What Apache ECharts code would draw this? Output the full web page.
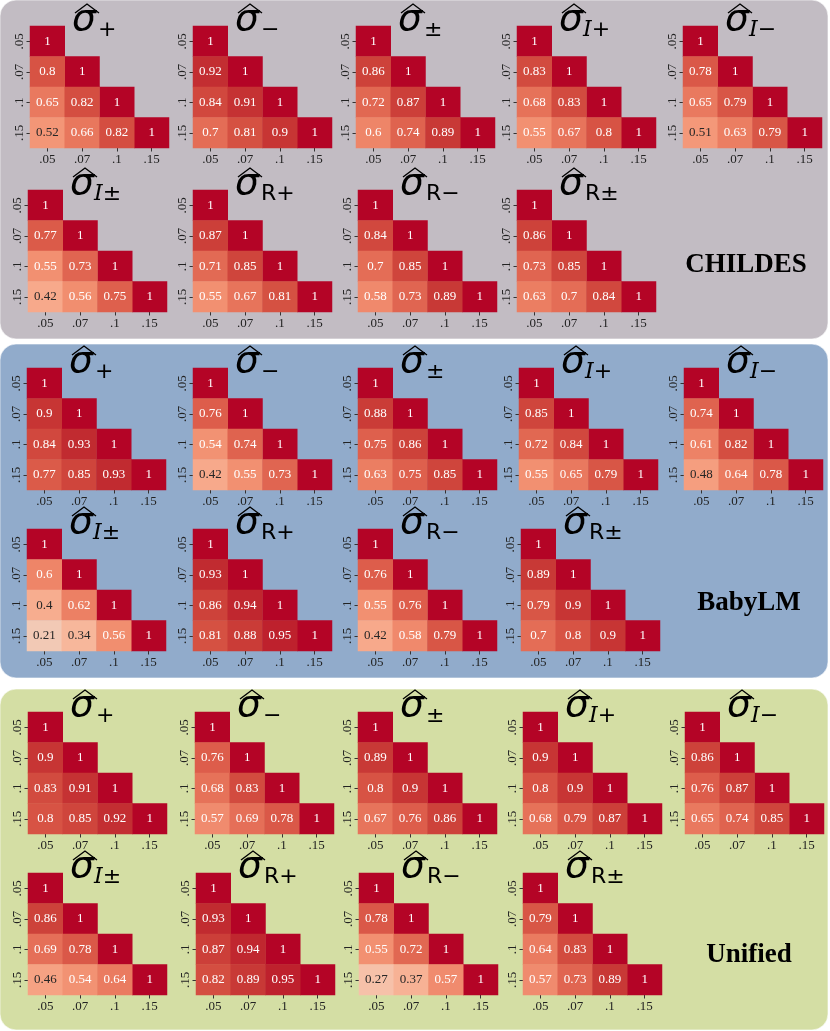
<!DOCTYPE html>
<html><head><meta charset="utf-8">
<script src="https://cdn.jsdelivr.net/npm/echarts@6/dist/echarts.min.js"></script>
<style>html,body{margin:0;padding:0;background:#fff}#c{width:830px;height:1031px}</style>
</head><body><div id="c"></div>
<script>
// ---- DATA ----
const thresholds = ['.05', '.07', '.1', '.15'];
const measureSubs = ['+', '\u2212', '\u00b1', 'I+', 'I\u2212', 'I\u00b1', 'R+', 'R\u2212', 'R\u00b1'];
const corpora = ['CHILDES', 'BabyLM', 'Unified'];
// lower-triangle order: (.07,.05) (.1,.05) (.1,.07) (.15,.05) (.15,.07) (.15,.1)
const childesValues = [
  [0.80, 0.65, 0.82, 0.52, 0.66, 0.82],
  [0.92, 0.84, 0.91, 0.70, 0.81, 0.90],
  [0.86, 0.72, 0.87, 0.60, 0.74, 0.89],
  [0.83, 0.68, 0.83, 0.55, 0.67, 0.80],
  [0.78, 0.65, 0.79, 0.51, 0.63, 0.79],
  [0.77, 0.55, 0.73, 0.42, 0.56, 0.75],
  [0.87, 0.71, 0.85, 0.55, 0.67, 0.81],
  [0.84, 0.70, 0.85, 0.58, 0.73, 0.89],
  [0.86, 0.73, 0.85, 0.63, 0.70, 0.84]
];
const babylmValues = [
  [0.90, 0.84, 0.93, 0.77, 0.85, 0.93],
  [0.76, 0.54, 0.74, 0.42, 0.55, 0.73],
  [0.88, 0.75, 0.86, 0.63, 0.75, 0.85],
  [0.85, 0.72, 0.84, 0.55, 0.65, 0.79],
  [0.74, 0.61, 0.82, 0.48, 0.64, 0.78],
  [0.60, 0.40, 0.62, 0.21, 0.34, 0.56],
  [0.93, 0.86, 0.94, 0.81, 0.88, 0.95],
  [0.76, 0.55, 0.76, 0.42, 0.58, 0.79],
  [0.89, 0.79, 0.90, 0.70, 0.80, 0.90]
];
const unifiedValues = [
  [0.90, 0.83, 0.91, 0.80, 0.85, 0.92],
  [0.76, 0.68, 0.83, 0.57, 0.69, 0.78],
  [0.89, 0.80, 0.90, 0.67, 0.76, 0.86],
  [0.90, 0.80, 0.90, 0.68, 0.79, 0.87],
  [0.86, 0.76, 0.87, 0.65, 0.74, 0.85],
  [0.86, 0.69, 0.78, 0.46, 0.54, 0.64],
  [0.93, 0.87, 0.94, 0.82, 0.89, 0.95],
  [0.78, 0.55, 0.72, 0.27, 0.37, 0.57],
  [0.79, 0.64, 0.83, 0.57, 0.73, 0.89]
];
const corpusValues = [childesValues, babylmValues, unifiedValues];

// ---- STYLE / LAYOUT ----
const coolwarm = [
 [59,76,192],[68,90,204],[77,104,215],[87,117,225],[98,130,234],[108,142,241],[119,154,247],[130,165,251],
 [141,176,254],[152,185,255],[163,194,255],[174,201,253],[184,208,249],[194,213,244],[204,217,238],[213,219,230],
 [221,221,221],[229,216,209],[236,211,197],[241,204,185],[245,196,173],[247,187,160],[247,177,148],[247,166,135],
 [244,154,123],[241,141,111],[236,127,99],[229,112,88],[222,96,77],[213,80,66],[203,62,56],[192,40,47],[180,4,38]
];
const panelColors = ['#c2bcc3', '#91abcb', '#d4dea4'];
const panelRects = [[0, 0, 828, 339], [0, 344, 828, 334], [0, 689, 828, 341]];
const gridLefts = [
  [[30, 193, 356, 517, 683], [28, 193, 358, 517]],
  [[27, 193, 358, 519, 684], [27, 193, 358, 521]],
  [[28, 195, 358, 523, 685], [28, 196, 359, 523]]
];
const gridTops = [[26, 190], [368, 529], [712, 873]];
const labelPos = [[746, 265], [749, 603], [749, 955]];
const GW = 139, GH = 122;

function cmap(v) {
  const t = (v + 1) / 2 * (coolwarm.length - 1);
  const i = Math.min(Math.floor(t), coolwarm.length - 2), f = t - i;
  return coolwarm[i].map((c, k) => c + (coolwarm[i + 1][k] - c) * f);
}
function textColor(v) {
  const lin = cmap(v).map(c => { c /= 255; return c <= 0.03928 ? c / 12.92 : Math.pow((c + 0.055) / 1.055, 2.4); });
  const L = 0.2126 * lin[0] + 0.7152 * lin[1] + 0.0722 * lin[2];
  return L > 0.408 ? '#262626' : '#ffffff';
}

const grids = [], xAxes = [], yAxes = [], series = [], graphics = [];
const pairs = [[0,1],[0,2],[1,2],[0,3],[1,3],[2,3]]; // [col,row]

panelRects.forEach((r, p) => {
  graphics.push({ type: 'rect', z: 0, shape: { x: r[0], y: r[1], width: r[2], height: r[3], r: 16 },
    style: { fill: panelColors[p], stroke: 'rgba(255,255,255,0.6)', lineWidth: 1 } });
  graphics.push({ type: 'text', z: 100, x: labelPos[p][0], y: labelPos[p][1],
    style: { text: corpora[p], fill: '#000', font: 'bold 27px "Liberation Serif", serif', align: 'center', verticalAlign: 'middle' } });
});

corpusValues.forEach((mats, p) => {
  mats.forEach((vals, m) => {
    const row = m < 5 ? 0 : 1, col = m < 5 ? m : m - 5;
    const left = gridLefts[p][row][col], top = gridTops[p][row];
    const gi = grids.length;
    grids.push({ left: left, top: top, width: GW, height: GH });
    const axisCommon = {
      type: 'category', data: thresholds, gridIndex: gi,
      axisLine: { show: false }, splitLine: { show: false },
      axisTick: { show: true, alignWithLabel: true, length: 3.5, lineStyle: { color: '#333', width: 1 } },
      axisLabel: { fontFamily: '"Liberation Serif", serif', fontSize: 13, color: '#222', margin: 5 }
    };
    xAxes.push(Object.assign({}, axisCommon, { position: 'bottom' }));
    yAxes.push(Object.assign({}, axisCommon, { inverse: true,
      axisLabel: Object.assign({}, axisCommon.axisLabel, { rotate: 90, margin: 4 }) }));
    const data = [];
    for (let d = 0; d < 4; d++) data.push({ value: [d, d, 1], label: { color: textColor(1) } });
    pairs.forEach((pr, k) => data.push({ value: [pr[0], pr[1], vals[k]], label: { color: textColor(vals[k]) } }));
    series.push({
      type: 'heatmap', xAxisIndex: gi, yAxisIndex: gi, data: data,
      label: { show: true, fontFamily: '"Liberation Serif", serif', fontSize: 13,
        formatter: prm => String(prm.value[2]) },
      itemStyle: { borderWidth: 0 },
      emphasis: { disabled: true }
    });
    // title: hat + sigma + subscript
    const sx = left + 42;
    graphics.push({ type: 'polyline', z: 100, shape: { points: [[sx + 3, top - 13], [sx + 15, top - 22], [sx + 27, top - 13]] },
      style: { stroke: '#000', lineWidth: 1.4, fill: null } });
    graphics.push({ type: 'text', z: 100, x: sx, y: top - 6,
      style: { text: '\u03c3', fill: '#000', font: 'oblique 38px "DejaVu Sans", sans-serif', align: 'left', verticalAlign: 'middle' } });
    const sub = measureSubs[m];
    const isI = sub.charAt(0) === 'I';
    const subText = isI ? '{i|I}{n|' + sub.slice(1) + '}' : '{n|' + sub + '}';
    graphics.push({ type: 'text', z: 100, x: sx + (isI ? 24 : 26), y: top + 4.5,
      style: { text: subText, fill: '#000', align: 'left', verticalAlign: 'middle',
        rich: { i: { font: 'italic 22px "DejaVu Serif", serif', fill: '#000' },
                n: { font: '22px "DejaVu Sans", sans-serif', fill: '#000' } } } });
  });
});

const chart = echarts.init(document.getElementById('c'), null, { renderer: 'canvas' });
chart.setOption({
  animation: false,
  backgroundColor: '#ffffff',
  grid: grids, xAxis: xAxes, yAxis: yAxes, series: series,
  visualMap: { type: 'continuous', show: false, min: -1, max: 1, dimension: 2,
    seriesIndex: series.map((s, i) => i),
    inRange: { color: coolwarm.map(c => 'rgb(' + c.join(',') + ')') } },
  graphic: { elements: graphics }
});
</script></body></html>
